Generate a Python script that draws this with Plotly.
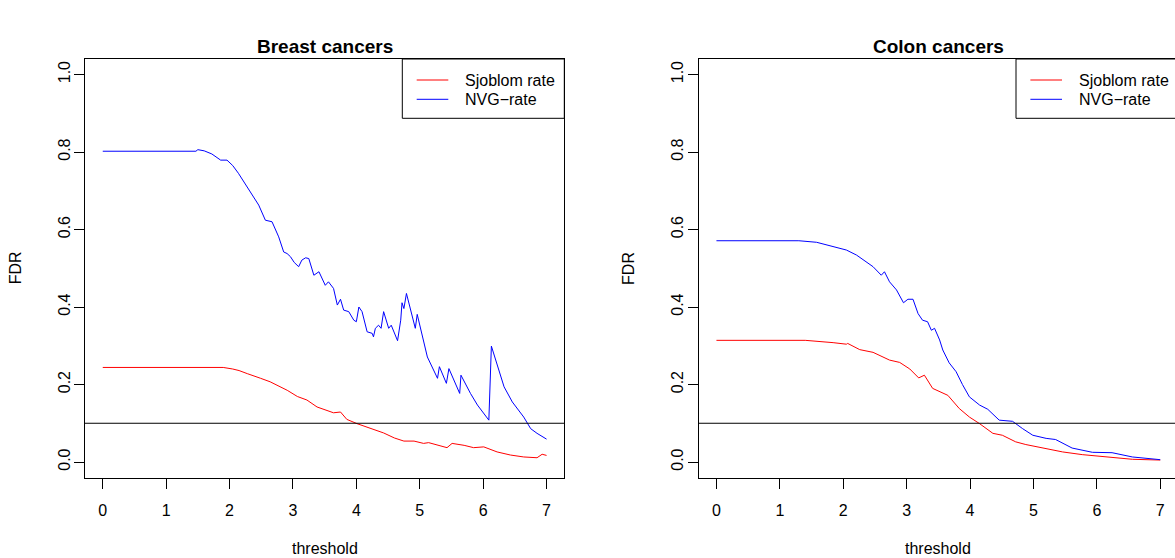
import plotly.graph_objects as go

# ---------------- data ----------------
breast_nvg_x = [0, 1.47, 1.50, 1.60, 1.72, 1.80, 1.86, 1.96, 2.05, 2.14, 2.22, 2.30, 2.38, 2.46,
                2.565, 2.67, 2.775, 2.854, 2.907, 2.96, 3.02, 3.09, 3.14, 3.20, 3.25, 3.28, 3.33,
                3.41, 3.51, 3.56, 3.64, 3.70, 3.75, 3.80, 3.88, 3.96, 4.00, 4.04, 4.09, 4.17, 4.25,
                4.27, 4.30, 4.35, 4.39, 4.43, 4.51, 4.55, 4.58, 4.65, 4.70, 4.72, 4.75, 4.79, 4.93,
                4.96, 5.12, 5.28, 5.31, 5.42, 5.46, 5.63, 5.65, 5.80, 5.91, 6.09, 6.13, 6.22, 6.33,
                6.46, 6.64, 6.75, 6.85, 7.00]
breast_nvg_y = [0.802, 0.802, 0.806, 0.803, 0.795, 0.785, 0.779, 0.779, 0.765, 0.745, 0.725, 0.702,
                0.683, 0.663, 0.624, 0.620, 0.581, 0.542, 0.538, 0.530, 0.515, 0.504, 0.521, 0.527,
                0.525, 0.510, 0.482, 0.491, 0.456, 0.465, 0.448, 0.405, 0.420, 0.392, 0.388, 0.366,
                0.362, 0.400, 0.388, 0.336, 0.332, 0.323, 0.345, 0.353, 0.345, 0.388, 0.345, 0.353,
                0.340, 0.313, 0.366, 0.411, 0.396, 0.435, 0.345, 0.381, 0.271, 0.216, 0.246, 0.203,
                0.241, 0.177, 0.224, 0.177, 0.147, 0.108, 0.299, 0.254, 0.194, 0.155, 0.116, 0.086,
                0.074, 0.059]

breast_sj_x = [0, 1.90, 2.05, 2.15, 2.28, 2.40, 2.49, 2.64, 2.75, 2.91, 3.07, 3.22, 3.38, 3.54,
               3.64, 3.75, 3.85, 4.01, 4.22, 4.38, 4.43, 4.60, 4.75, 4.91, 5.06, 5.14, 5.30, 5.43,
               5.51, 5.70, 5.85, 6.01, 6.22, 6.43, 6.64, 6.85, 6.93, 7.00]
breast_sj_y = [0.244, 0.244, 0.240, 0.236, 0.228, 0.220, 0.216, 0.207, 0.198, 0.185, 0.169, 0.160,
               0.142, 0.134, 0.127, 0.129, 0.110, 0.099, 0.087, 0.078, 0.075, 0.062, 0.054, 0.054,
               0.048, 0.050, 0.043, 0.037, 0.048, 0.043, 0.037, 0.039, 0.026, 0.018, 0.013, 0.011,
               0.020, 0.017]

colon_nvg_x = [0, 1.30, 1.58, 1.84, 2.05, 2.21, 2.36, 2.47, 2.60, 2.65, 2.73, 2.84, 2.95, 3.02,
               3.10, 3.18, 3.25, 3.33, 3.39, 3.44, 3.52, 3.57, 3.67, 3.78, 3.88, 3.99, 4.15, 4.28,
               4.46, 4.67, 4.83, 4.99, 5.20, 5.35, 5.61, 5.93, 6.24, 6.56, 7.00]
colon_nvg_y = [0.571, 0.571, 0.567, 0.555, 0.547, 0.534, 0.517, 0.504, 0.482, 0.491, 0.465, 0.444,
               0.411, 0.420, 0.420, 0.383, 0.366, 0.362, 0.340, 0.345, 0.315, 0.289, 0.256, 0.233,
               0.200, 0.168, 0.147, 0.136, 0.108, 0.105, 0.086, 0.069, 0.061, 0.058, 0.036, 0.025,
               0.024, 0.013, 0.006]

colon_sj_x = [0, 1.40, 1.84, 2.05, 2.07, 2.26, 2.47, 2.73, 2.89, 3.05, 3.19, 3.28, 3.41, 3.52,
              3.65, 3.83, 3.99, 4.15, 4.36, 4.51, 4.72, 4.88, 5.14, 5.46, 5.77, 6.14, 6.56, 7.00]
colon_sj_y = [0.314, 0.314, 0.308, 0.304, 0.306, 0.290, 0.283, 0.263, 0.257, 0.240, 0.217, 0.224,
              0.190, 0.181, 0.172, 0.138, 0.116, 0.099, 0.074, 0.069, 0.052, 0.045, 0.036, 0.026,
              0.019, 0.013, 0.007, 0.005]

fdr_cutoff = 0.1
panel_titles = ["Breast cancers", "Colon cancers"]
series_names = ["Sjoblom rate", "NVG\u2212rate"]
x_ticks = [0, 1, 2, 3, 4, 5, 6, 7]
y_ticks = [0.0, 0.2, 0.4, 0.6, 0.8, 1.0]
y_tick_text = ["0.0", "0.2", "0.4", "0.6", "0.8", "1.0"]

# ---------------- layout geometry (pixels) ----------------
W, H = 1175, 558
FONT = "Liberation Sans, Arial, Helvetica, sans-serif"
RED, BLUE = "#FF0000", "#0000FF"

box_top, box_bot = 59.0, 477.5
p1_left, p1_right = 85.0, 564.3
p2_left = 698.7
unit = (p1_right - p1_left) / 7.56


def fx(px):
    return px / W


def fy(py):
    return 1 - py / H


fig = go.Figure()

fig.add_trace(go.Scatter(x=breast_sj_x, y=breast_sj_y, mode="lines", line=dict(color=RED, width=1),
                         xaxis="x", yaxis="y", showlegend=False))
fig.add_trace(go.Scatter(x=breast_nvg_x, y=breast_nvg_y, mode="lines", line=dict(color=BLUE, width=1),
                         xaxis="x", yaxis="y", showlegend=False))
fig.add_trace(go.Scatter(x=colon_sj_x, y=colon_sj_y, mode="lines", line=dict(color=RED, width=1),
                         xaxis="x2", yaxis="y2", showlegend=False))
fig.add_trace(go.Scatter(x=colon_nvg_x, y=colon_nvg_y, mode="lines", line=dict(color=BLUE, width=1),
                         xaxis="x2", yaxis="y2", showlegend=False))

x2_right_val = -0.28 + (W - p2_left) / unit

common_x = dict(tickvals=x_ticks, ticktext=[str(t) for t in x_ticks], ticks="outside", ticklen=10,
                tickcolor="black", tickwidth=1, showgrid=False, zeroline=False, showline=True,
                linecolor="black", linewidth=1, tickfont=dict(family=FONT, size=16, color="black"),
                ticklabelstandoff=8)
common_y = dict(range=[-0.04, 1.04], tickvals=y_ticks, ticktext=y_tick_text, ticks="outside", ticklen=10,
                tickcolor="black", tickwidth=1, showgrid=False, zeroline=False, showline=True,
                linecolor="black", linewidth=1, tickangle=-90,
                tickfont=dict(family=FONT, size=16, color="black"), ticklabelstandoff=-2)

fig.update_layout(
    width=W, height=H, autosize=False,
    margin=dict(l=0, r=0, t=0, b=0, pad=0),
    paper_bgcolor="white", plot_bgcolor="white",
    font=dict(family=FONT, size=16, color="black"),
    xaxis=dict(domain=[fx(p1_left), fx(p1_right)], range=[-0.28, 7.28], mirror=True, anchor="y", **common_x),
    yaxis=dict(domain=[fy(box_bot), fy(box_top)], mirror=True, anchor="x", **common_y),
    xaxis2=dict(domain=[fx(p2_left), 1.0], range=[-0.28, x2_right_val], mirror=True, anchor="y2", **common_x),
    yaxis2=dict(domain=[fy(box_bot), fy(box_top)], mirror=False, anchor="x2", **common_y),
)

shapes = []
annotations = []
for i, (xr, yr, left, right) in enumerate([("x", "y", p1_left, p1_right),
                                             ("x2", "y2", p2_left, p2_left + (p1_right - p1_left))]):
    # cutoff line
    shapes.append(dict(type="line", xref=f"{xr} domain", yref=yr, x0=0, x1=1, y0=fdr_cutoff, y1=fdr_cutoff,
                       line=dict(color="black", width=1), layer="above"))
    # legend box
    lg_left = left + (402.3 - p1_left)
    lg_right = right
    shapes.append(dict(type="rect", xref="paper", yref="paper", x0=fx(lg_left), x1=fx(lg_right),
                       y0=fy(118.3), y1=fy(box_top), line=dict(color="black", width=1),
                       fillcolor="rgba(0,0,0,0)", layer="above"))
    for name, col, ly in [(series_names[0], RED, 80.0), (series_names[1], BLUE, 99.3)]:
        shapes.append(dict(type="line", xref="paper", yref="paper",
                           x0=fx(lg_left + 14.4), x1=fx(lg_left + 46.0), y0=fy(ly), y1=fy(ly),
                           line=dict(color=col, width=1)))
        annotations.append(dict(xref="paper", yref="paper", x=fx(lg_left + 61.0), y=fy(ly), text=name,
                                showarrow=False, xanchor="left", yanchor="middle",
                                font=dict(family=FONT, size=16, color="black")))
    cx = (left + right) / 2
    annotations.append(dict(xref="paper", yref="paper", x=fx(cx), y=fy(47), text=f"<b>{panel_titles[i]}</b>",
                            showarrow=False, xanchor="center", yanchor="middle",
                            font=dict(family=FONT, size=19, color="black")))
    annotations.append(dict(xref="paper", yref="paper", x=fx(cx), y=fy(548), text="threshold",
                            showarrow=False, xanchor="center", yanchor="middle",
                            font=dict(family=FONT, size=16, color="black")))
    annotations.append(dict(xref="paper", yref="paper", x=fx(left - 70), y=fy((box_top + box_bot) / 2),
                            text="FDR", textangle=-90, showarrow=False, xanchor="center", yanchor="middle",
                            font=dict(family=FONT, size=16, color="black")))

fig.update_layout(shapes=shapes, annotations=annotations)
fig.write_html("out.html")
